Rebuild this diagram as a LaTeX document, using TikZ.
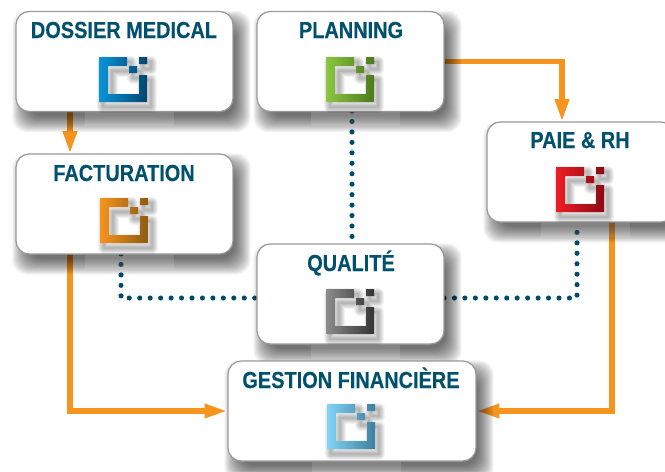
\documentclass[tikz,border=0pt]{standalone}
\usepackage{fontspec}
\setmainfont[FakeStretch=0.86,BoldFeatures={FakeStretch=0.86,FakeBold=0.35}]{Liberation Sans}
\usetikzlibrary{arrows.meta}
\usetikzlibrary{backgrounds}
\usetikzlibrary{calc}
\definecolor{titleblue}{HTML}{00506F}
\definecolor{flowgold}{HTML}{F7941D}
\definecolor{dotblue}{HTML}{004A6A}
\definecolor{boxline}{HTML}{9A9A9A}
\definecolor{iconblue}{HTML}{0A94D8}
\definecolor{iconblueb}{HTML}{00466F}
\definecolor{icongreen}{HTML}{8CC63F}
\definecolor{icongreenb}{HTML}{4C7A1E}
\definecolor{icongold}{HTML}{F7941D}
\definecolor{icongoldb}{HTML}{8F5A10}
\definecolor{iconred}{HTML}{ED1C24}
\definecolor{iconredb}{HTML}{8B0A14}
\definecolor{icongray}{HTML}{8C8C8C}
\definecolor{icongrayb}{HTML}{333333}
\definecolor{iconsky}{HTML}{80D4F6}
\definecolor{iconskyb}{HTML}{3F7F9F}
\newcommand{\iconpath}{(0,0) -- (28,0) -- (28,9) -- (9,9) -- (9,37) -- (40,37) -- (40,18) -- (48,18) -- (48,45) -- (0,45) -- cycle
  (40,0) -- (48,0) -- (48,7) -- (40,7) -- cycle (30,9) -- (38,9) -- (38,16) -- (30,16) -- cycle}
\newcommand{\softshadow}[1]{
  \foreach \g in {10,9,...,-6}
    \fill[black,opacity=0.045,rounded corners=8pt] ($(#1.north west)+(7-\g,10-\g)$) rectangle ($(#1.south east)+(7+\g,10+\g)$);
  \fill[white,opacity=0.12] ($(#1.south)+(-40,0)$) rectangle ($(#1.south)+(49,14)$);
}
\tikzset{
  modbox/.style={draw=boxline,line width=0.7pt,fill=white,rounded corners=7.5pt,inner sep=0pt,minimum height=2cm},
  boxtitle/.style={anchor=base,inner sep=0pt,text=titleblue,font=\fontsize{13.2}{15}\selectfont\bfseries},
  flow/.style={draw=flowgold,line width=3.2pt,-{Triangle[length=13pt,width=7.5pt]}},
  dotline/.style={draw=dotblue,line width=2.9pt,line cap=round,dash pattern=on 0pt off 5.95pt},
  pics/modicon/.style 2 args={code={
    \foreach \w in {12,10,8,6,4,2}
      \draw[black,opacity=0.05,line width=\w*0.57pt,line join=round,shift={(4,5)}] \iconpath;
    \shade[left color=#1,right color=#2] \iconpath;
  }}
}
\begin{document}
\begin{tikzpicture}[x=0.02cm,y=-0.02cm]
\useasboundingbox (0,0) rectangle (665,471);
\clip (0,0) rectangle (665,471);
\node[modbox,minimum width=4.34cm] (dossier) at (124.5,61.5) {};
\node[modbox,minimum width=3.74cm] (planning) at (350.5,61.5) {};
\node[modbox,minimum width=4.34cm] (facturation) at (124.5,204) {};
\node[modbox,minimum width=3.74cm] (paie) at (580.5,172) {};
\node[modbox,minimum width=3.74cm] (qualite) at (350.5,294) {};
\node[modbox,minimum width=4.96cm] (gestion) at (352,411) {};
\node[boxtitle] (dossiertitle) at (124,38) {DOSSIER MEDICAL};
\node[boxtitle] (planningtitle) at (351,38) {PLANNING};
\node[boxtitle] (facturationtitle) at (124,181) {FACTURATION};
\node[boxtitle] (paietitle) at (580,148) {PAIE \& RH};
\node[boxtitle] (qualitetitle) at (351,271) {QUALITÉ};
\node[boxtitle] (gestiontitle) at (351,388) {GESTION FINANCIÈRE};
\begin{pgfonlayer}{background}
\clip (0,0) rectangle (665,471);
\fill[white] (0,0) rectangle (665,471);
\coordinate (dossierout) at (70,111);
\coordinate (facturationin) at (70,154);
\coordinate (facturationout) at (70,254);
\coordinate (paiein) at (562,122);
\coordinate (paieout) at (612,222);
\coordinate (planningdots) at (352,111);
\coordinate (qualitetop) at (352,244);
\coordinate (facturationdots) at (121,254);
\coordinate (qualiteleft) at (257,298);
\coordinate (qualiteright) at (444,298);
\coordinate (paiedots) at (577,222);
\draw[flow] (dossierout) -- (facturationin);
\draw[flow] (planning.east) -| (paiein);
\draw[flow] (facturationout) |- (gestion.west);
\draw[flow] (paieout) |- (gestion.east);
\draw[dotline] (planningdots) -- (qualitetop);
\draw[dotline] (facturationdots) |- (qualiteleft);
\draw[dotline] (qualiteright) -| (paiedots);
\softshadow{dossier}
\softshadow{planning}
\softshadow{facturation}
\softshadow{paie}
\softshadow{qualite}
\softshadow{gestion}
\end{pgfonlayer}
\pic at (99,57) {modicon={iconblue}{iconblueb}};
\pic at (326,57) {modicon={icongreen}{icongreenb}};
\pic at (100,198) {modicon={icongold}{icongoldb}};
\pic at (556,167) {modicon={iconred}{iconredb}};
\pic at (326,289) {modicon={icongray}{icongrayb}};
\pic at (327,404) {modicon={iconsky}{iconskyb}};
\end{tikzpicture}
\end{document}
